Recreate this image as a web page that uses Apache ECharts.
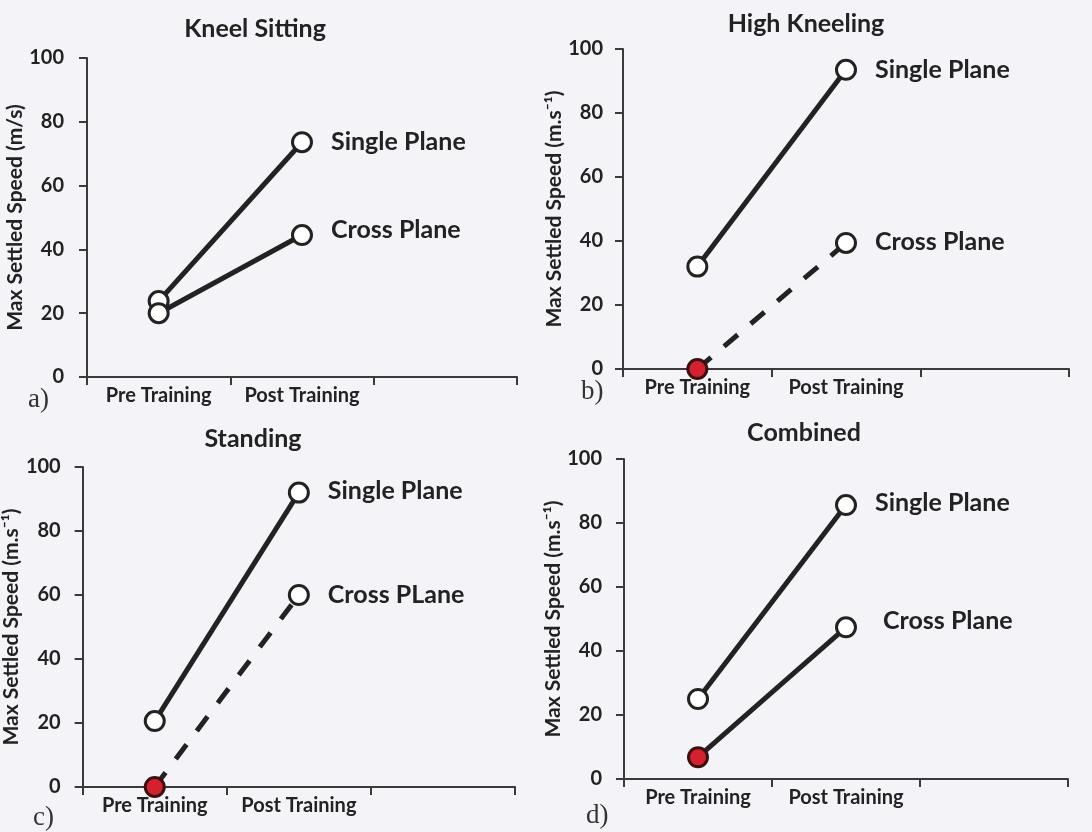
<!DOCTYPE html>
<html><head><meta charset="utf-8">
<script src="https://cdn.jsdelivr.net/npm/echarts@6/dist/echarts.min.js"></script>
<style>html,body{margin:0;padding:0;background:#f4f4f8;}#c{width:1092px;height:832px;}</style>
</head><body><div id="c"></div>
<script>
const categories = ['Pre Training', 'Post Training', ''];
const panelTitles = ['Kneel Sitting', 'High Kneeling', 'Standing', 'Combined'];
const panelLetters = ['a)', 'b)', 'c)', 'd)'];
const yAxisNames = ['Max Settled Speed (m/s)', 'Max Settled Speed (m.s\u207B\u00B9)', 'Max Settled Speed (m.s\u207B\u00B9)', 'Max Settled Speed (m.s\u207B\u00B9)'];
const singleNames = ['Single Plane', 'Single Plane', 'Single Plane', 'Single Plane'];
const crossNames = ['Cross Plane', 'Cross Plane', 'Cross PLane', 'Cross Plane'];
const singlePlane = [[23.8, 73.6], [32, 93.5], [20.6, 92], [25, 85.6]];
const crossPlane = [[20, 44.5], [0, 39.4], [0, 60], [6.8, 47.4]];
const crossDashed = [false, true, true, false];
const crossPreFilled = [false, true, true, true];
const yTicks = [0, 20, 40, 60, 80, 100];

const grids = [
  {left: 87, top: 58, width: 430, height: 319},
  {left: 623, top: 49, width: 446, height: 320},
  {left: 72, top: 467, width: 443, height: 320},
  {left: 624, top: 459, width: 444, height: 320}
];
const nameGaps = [54, 44, 40, 45];
const labelMargins = [23, 20, 22, 22];
const titlePos = [[255, 28], [806, 23], [253, 438], [804, 432]];
const letterPos = [[28, 386], [581, 378], [33, 804], [586, 802]];
const singleLabelOffset = [[0, 0], [0, 0], [0, -2], [0, -2]];
const crossLabelOffset = [[0, -5], [0, -1], [0, 0], [8, -6]];

const font = 'Lato, "Open Sans", sans-serif';
const ink = '#222';
const axisColor = '#3a3a3a';
const titleSize = 25;

const option = {
  backgroundColor: '#f4f4f8',
  animation: false,
  grid: grids,
  xAxis: grids.map((g, i) => ({
    type: 'category', gridIndex: i, data: categories, boundaryGap: true,
    axisLine: {lineStyle: {color: axisColor, width: 2}},
    axisTick: {show: true, length: 8, interval: 0, lineStyle: {color: axisColor, width: 2}},
    axisLabel: {color: ink, fontFamily: font, fontWeight: 'bold', fontSize: 20, margin: 9, interval: 0, hideOverlap: false},
    splitLine: {show: false}
  })),
  yAxis: grids.map((g, i) => ({
    type: 'value', gridIndex: i, min: yTicks[0], max: yTicks[yTicks.length - 1], interval: 20,
    name: yAxisNames[i], nameLocation: 'middle', nameGap: nameGaps[i], nameRotate: 90,
    nameTextStyle: {color: ink, fontFamily: font, fontWeight: 'bold', fontSize: 21},
    axisLine: {show: true, lineStyle: {color: axisColor, width: 2}},
    axisTick: {show: true, length: 8, lineStyle: {color: axisColor, width: 2}},
    axisLabel: {color: ink, fontFamily: font, fontWeight: 'bold', fontSize: 20, margin: labelMargins[i]},
    splitLine: {show: false}
  })),
  title: panelTitles.map((t, i) => ({
    text: t, left: titlePos[i][0], top: titlePos[i][1] - titleSize * 0.45, textAlign: 'center',
    padding: 0,
    textStyle: {color: ink, fontFamily: font, fontWeight: 'bold', fontSize: titleSize}
  })),
  graphic: panelLetters.map((t, i) => ({
    type: 'text', left: letterPos[i][0], top: letterPos[i][1],
    style: {text: t, fill: '#333', font: '27px "Liberation Serif", "DejaVu Serif", serif'}
  })),
  series: []
};

function labelCfg(name, off) {
  return {show: true, position: 'right', distance: 18, offset: off, formatter: name,
    color: ink, fontFamily: font, fontWeight: 'bold', fontSize: 25};
}

for (let i = 0; i < 4; i++) {
  option.series.push({
    type: 'line', xAxisIndex: i, yAxisIndex: i, name: singleNames[i],
    data: singlePlane[i].map((v, k) => k === 1 ? {value: v, label: labelCfg(singleNames[i], singleLabelOffset[i])} : v),
    symbol: 'circle', symbolSize: 19,
    lineStyle: {color: ink, width: 5},
    itemStyle: {color: '#ffffff', borderColor: ink, borderWidth: 3},
    label: {show: false}, z: 3
  });
  option.series.push({
    type: 'line', xAxisIndex: i, yAxisIndex: i, name: crossNames[i],
    data: crossPlane[i].map((v, k) => {
      if (k === 1) return {value: v, label: labelCfg(crossNames[i], crossLabelOffset[i])};
      if (crossPreFilled[i]) return {value: v, itemStyle: {color: '#d4202f', borderColor: '#3a1010'}};
      return v;
    }),
    symbol: 'circle', symbolSize: 19,
    lineStyle: {color: ink, width: 5, type: crossDashed[i] ? [18, 17] : 'solid', cap: 'butt'},
    itemStyle: {color: '#ffffff', borderColor: ink, borderWidth: 3},
    label: {show: false}, z: 3
  });
}

const chart = echarts.init(document.getElementById('c'), null, {renderer: 'canvas'});
chart.setOption(option);
</script>
</body></html>
